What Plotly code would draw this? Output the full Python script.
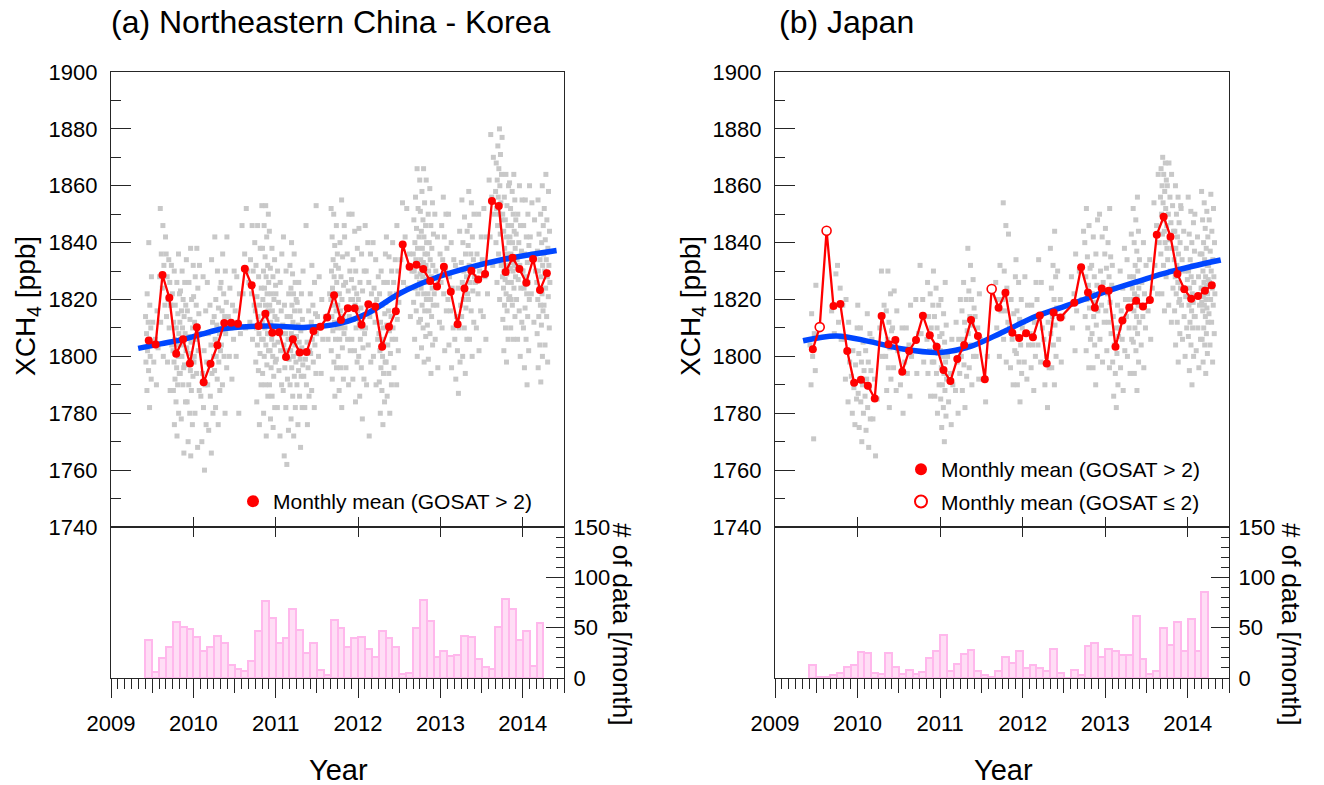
import plotly.graph_objects as go

# ---------------------------------------------------------------- data
MONTHS = [
    "2009-06", "2009-07", "2009-08", "2009-09", "2009-10", "2009-11", "2009-12",
    "2010-01", "2010-02", "2010-03", "2010-04", "2010-05", "2010-06", "2010-07",
    "2010-08", "2010-09", "2010-10", "2010-11", "2010-12",
    "2011-01", "2011-02", "2011-03", "2011-04", "2011-05", "2011-06", "2011-07",
    "2011-08", "2011-09", "2011-10", "2011-11", "2011-12",
    "2012-01", "2012-02", "2012-03", "2012-04", "2012-05", "2012-06", "2012-07",
    "2012-08", "2012-09", "2012-10", "2012-11", "2012-12",
    "2013-01", "2013-02", "2013-03", "2013-04", "2013-05", "2013-06", "2013-07",
    "2013-08", "2013-09", "2013-10", "2013-11", "2013-12",
    "2014-01", "2014-02", "2014-03", "2014-04",
]

# monthly mean XCH4 [ppb]
XCH4_A = [
    1805.6, 1804.2, 1828.6, 1820.6, 1800.9, 1806.0, 1797.5, 1810.2, 1790.9, 1797.4,
    1803.9, 1811.7, 1811.8, 1811.5, 1830.8, 1825.0, 1810.7, 1815.0, 1808.3, 1808.5,
    1799.8, 1806.0, 1801.4, 1801.5, 1808.9, 1810.4, 1813.7, 1821.5, 1812.8, 1816.9,
    1816.9, 1811.1, 1818.3, 1817.5, 1803.4, 1810.4, 1815.9, 1839.3, 1831.5, 1832.2,
    1830.7, 1826.5, 1824.6, 1831.5, 1822.7, 1811.3, 1823.9, 1830.1, 1827.0, 1829.0,
    1854.6, 1852.9, 1829.7, 1834.7, 1830.7, 1825.9, 1834.2, 1823.3, 1829.2,
]
XCH4_B = [
    1802.5, 1810.3, 1844.2, 1817.7, 1818.4, 1801.9, 1790.7, 1791.8, 1789.7, 1785.2,
    1814.2, 1804.3, 1805.8, 1794.6, 1801.9, 1805.8, 1814.3, 1807.4, 1803.4, 1795.2,
    1791.3, 1799.1, 1804.0, 1812.8, 1807.2, 1792.0, 1823.7, 1817.1, 1822.4, 1808.3,
    1806.5, 1808.1, 1806.7, 1814.4, 1797.5, 1815.4, 1813.7, None, 1818.9, 1831.3,
    1822.5, 1817.1, 1823.9, 1823.1, 1803.4, 1812.6, 1817.2, 1819.6, 1817.5, 1819.8,
    1842.8, 1849.1, 1842.1, 1829.0, 1823.6, 1820.3, 1821.2, 1823.1, 1825.0,
]

# number of GOSAT data per month (2009-06 .. 2014-03)
COUNT_A = [
    38, 6, 20, 31, 56, 51, 49, 41, 27, 31, 42, 35, 13, 9, 7, 17, 47, 76, 60, 35,
    40, 69, 48, 25, 35, 8, 3, 58, 50, 31, 40, 41, 29, 21, 47, 40, 31, 4, 5, 50,
    77, 57, 21, 27, 22, 23, 42, 41, 19, 11, 9, 51, 78, 69, 38, 47, 12, 55,
]
COUNT_B = [
    13, 1, 1, 3, 5, 11, 13, 26, 25, 5, 4, 25, 11, 4, 8, 4, 6, 20, 27, 43,
    7, 14, 24, 28, 7, 3, 1, 7, 21, 15, 27, 10, 13, 10, 7, 29, 5, 0, 8, 3,
    32, 35, 21, 29, 27, 23, 23, 62, 19, 4, 7, 50, 33, 56, 27, 59, 27, 85,
]

# smooth trend curves (decimal year, ppb)
TREND_A_T = [2009.33, 2009.60, 2009.88, 2010.10, 2010.36, 2010.89, 2011.38, 2011.78,
             2012.11, 2012.51, 2012.92, 2013.32, 2013.73, 2014.41]
TREND_A_V = [1802.8, 1804.4, 1806.0, 1807.8, 1809.7, 1810.7, 1810.2, 1811.6,
             1815.1, 1822.2, 1827.4, 1831.0, 1833.9, 1837.2]
TREND_B_T = [2009.34, 2009.745, 2010.15, 2010.55, 2011.00, 2011.36, 2011.77, 2012.17,
             2012.58, 2012.98, 2013.39, 2013.79, 2014.40]
TREND_B_V = [1805.5, 1807.2, 1805.2, 1802.6, 1801.4, 1803.4, 1808.7, 1814.2,
             1818.3, 1822.5, 1826.3, 1829.8, 1833.9]

# individual GOSAT retrievals per month (ppb, estimated from the figure)
GRAY_A = [
    [1782, 1788, 1792, 1795, 1798, 1800, 1802, 1804, 1806, 1808, 1810, 1812, 1814, 1818, 1822, 1828, 1840],
    [1790, 1798, 1803, 1806, 1812, 1816],
    [1800, 1812, 1818, 1824, 1828, 1832, 1836, 1842, 1846, 1852],
    [1788, 1798, 1804, 1810, 1814, 1818, 1820, 1822, 1826, 1828, 1832, 1834, 1836, 1818],
    [1772, 1776, 1780, 1784, 1788, 1790, 1792, 1794, 1796, 1798, 1800, 1801, 1802, 1804, 1806, 1808, 1810, 1812, 1815, 1818, 1822, 1826, 1830, 1836],
    [1766, 1778, 1784, 1790, 1794, 1797, 1800, 1802, 1804, 1806, 1808, 1810, 1812, 1814, 1816, 1818, 1820, 1823, 1826, 1830, 1834, 1796],
    [1765, 1770, 1776, 1780, 1784, 1788, 1790, 1793, 1795, 1797, 1799, 1801, 1803, 1805, 1807, 1810, 1813, 1816, 1820, 1826, 1832, 1838],
    [1768, 1780, 1788, 1794, 1798, 1802, 1806, 1808, 1810, 1812, 1815, 1818, 1821, 1824, 1828, 1832, 1838, 1800],
    [1760, 1770, 1776, 1782, 1786, 1790, 1794, 1798, 1802, 1808, 1816, 1828],
    [1766, 1774, 1780, 1786, 1790, 1794, 1797, 1800, 1804, 1808, 1812, 1818, 1826, 1834],
    [1776, 1782, 1788, 1792, 1795, 1798, 1800, 1802, 1804, 1806, 1808, 1811, 1814, 1817, 1820, 1824, 1830, 1842],
    [1780, 1790, 1796, 1800, 1804, 1808, 1810, 1812, 1814, 1816, 1819, 1822, 1826, 1830, 1836, 1842],
    [1792, 1800, 1806, 1810, 1814, 1818, 1824, 1830],
    [1780, 1800, 1808, 1812, 1816, 1822, 1828],
    [1810, 1822, 1830, 1836, 1846, 1852],
    [1806, 1812, 1818, 1822, 1826, 1830, 1834, 1840, 1846],
    [1776, 1784, 1790, 1795, 1798, 1801, 1804, 1806, 1808, 1810, 1812, 1814, 1816, 1818, 1821, 1824, 1828, 1832, 1838, 1846, 1853],
    [1772, 1780, 1786, 1790, 1794, 1797, 1800, 1802, 1804, 1806, 1808, 1810, 1812, 1814, 1815, 1816, 1818, 1820, 1822, 1824, 1826, 1828, 1830, 1832, 1835, 1838, 1842, 1846, 1850, 1853],
    [1775, 1778, 1782, 1786, 1790, 1793, 1796, 1798, 1800, 1802, 1804, 1806, 1808, 1810, 1812, 1814, 1816, 1818, 1820, 1822, 1825, 1828, 1831, 1834, 1838, 1844],
    [1772, 1782, 1790, 1795, 1799, 1802, 1805, 1808, 1810, 1813, 1816, 1819, 1822, 1826, 1830, 1836],
    [1762, 1765, 1774, 1782, 1788, 1792, 1796, 1799, 1802, 1804, 1806, 1808, 1811, 1814, 1818, 1822, 1830, 1842],
    [1772, 1778, 1782, 1786, 1790, 1793, 1796, 1798, 1800, 1802, 1804, 1805, 1806, 1807, 1808, 1810, 1812, 1814, 1816, 1818, 1820, 1822, 1824, 1826, 1829, 1832, 1836, 1840],
    [1768, 1776, 1782, 1786, 1790, 1793, 1795, 1797, 1799, 1801, 1803, 1805, 1807, 1809, 1811, 1813, 1816, 1819, 1822, 1826, 1830],
    [1776, 1782, 1786, 1790, 1793, 1796, 1799, 1802, 1805, 1810, 1816, 1846],
    [1782, 1788, 1794, 1798, 1801, 1804, 1806, 1808, 1810, 1812, 1815, 1818, 1822, 1826, 1832, 1853],
    [1794, 1800, 1806, 1810, 1814, 1820, 1828],
    [1806, 1814, 1822],
    [1786, 1792, 1796, 1798, 1802, 1806, 1809, 1810, 1812, 1814, 1816, 1818, 1820, 1822, 1824, 1826, 1828, 1830, 1832, 1834, 1836, 1839, 1842, 1846, 1850, 1852],
    [1782, 1788, 1792, 1796, 1800, 1803, 1806, 1808, 1810, 1812, 1814, 1816, 1818, 1820, 1822, 1825, 1828, 1831, 1835, 1840, 1846, 1855],
    [1790, 1796, 1802, 1806, 1810, 1814, 1817, 1820, 1823, 1826, 1830, 1836, 1842, 1850],
    [1784, 1792, 1798, 1802, 1806, 1810, 1813, 1816, 1818, 1820, 1822, 1824, 1827, 1830, 1834, 1838, 1844, 1850],
    [1778, 1786, 1792, 1796, 1800, 1803, 1806, 1808, 1810, 1812, 1814, 1817, 1820, 1823, 1826, 1830, 1836, 1845],
    [1772, 1790, 1798, 1804, 1810, 1814, 1818, 1822, 1826, 1830, 1836, 1840, 1846],
    [1790, 1800, 1806, 1812, 1816, 1820, 1824, 1828, 1834, 1840],
    [1776, 1780, 1784, 1788, 1791, 1794, 1796, 1798, 1800, 1802, 1804, 1806, 1808, 1810, 1812, 1815, 1818, 1822, 1826, 1830, 1836],
    [1780, 1786, 1790, 1794, 1798, 1801, 1804, 1806, 1809, 1811, 1814, 1816, 1819, 1822, 1826, 1830, 1835, 1842],
    [1790, 1796, 1802, 1806, 1810, 1813, 1816, 1819, 1822, 1826, 1830, 1834, 1840, 1846],
    [1826, 1834, 1842, 1854],
    [1814, 1824, 1830, 1836, 1852],
    [1800, 1806, 1812, 1816, 1819, 1822, 1824, 1826, 1828, 1830, 1832, 1834, 1836, 1838, 1840, 1842, 1845, 1848, 1852, 1856, 1862, 1866],
    [1798, 1803, 1807, 1810, 1813, 1816, 1818, 1820, 1822, 1824, 1826, 1828, 1829, 1830, 1831, 1832, 1833, 1834, 1836, 1838, 1840, 1842, 1844, 1846, 1848, 1851, 1854, 1858, 1862, 1866],
    [1794, 1799, 1804, 1808, 1811, 1814, 1816, 1818, 1820, 1822, 1824, 1826, 1827, 1828, 1830, 1832, 1834, 1836, 1838, 1840, 1843, 1846, 1850, 1854, 1859],
    [1796, 1806, 1812, 1818, 1822, 1826, 1830, 1836, 1842, 1850],
    [1802, 1810, 1816, 1822, 1826, 1830, 1834, 1838, 1842, 1846, 1850, 1856],
    [1796, 1804, 1810, 1816, 1820, 1824, 1828, 1834, 1840, 1850],
    [1787, 1792, 1798, 1802, 1806, 1810, 1814, 1818, 1824, 1832, 1844],
    [1794, 1800, 1806, 1810, 1814, 1817, 1820, 1822, 1824, 1826, 1828, 1830, 1833, 1836, 1840, 1844, 1849, 1855],
    [1800, 1806, 1812, 1816, 1820, 1823, 1826, 1828, 1830, 1832, 1834, 1836, 1839, 1842, 1846, 1850, 1854, 1858],
    [1802, 1810, 1816, 1822, 1826, 1830, 1836, 1842, 1850],
    [1806, 1814, 1822, 1828, 1834, 1842, 1852],
    [1832, 1842, 1850, 1856, 1862, 1870, 1878],
    [1820, 1826, 1832, 1836, 1840, 1843, 1846, 1848, 1850, 1852, 1854, 1856, 1858, 1860, 1862, 1864, 1866, 1868, 1871, 1874, 1877, 1880],
    [1798, 1802, 1806, 1810, 1813, 1816, 1818, 1820, 1822, 1824, 1826, 1827, 1828, 1829, 1830, 1831, 1832, 1834, 1836, 1838, 1840, 1842, 1844, 1846, 1848, 1850, 1853, 1856, 1860, 1864],
    [1806, 1810, 1814, 1818, 1821, 1824, 1826, 1828, 1830, 1831, 1832, 1833, 1834, 1835, 1836, 1838, 1840, 1842, 1844, 1846, 1848, 1850, 1852, 1855, 1858, 1861, 1864, 1820],
    [1800, 1806, 1812, 1816, 1820, 1824, 1827, 1830, 1832, 1834, 1837, 1840, 1843, 1846, 1850, 1855, 1860],
    [1790, 1796, 1802, 1806, 1810, 1814, 1817, 1820, 1822, 1824, 1826, 1828, 1830, 1833, 1836, 1839, 1842, 1846, 1850, 1855, 1860],
    [1812, 1822, 1830, 1836, 1842, 1848, 1854],
    [1791, 1796, 1800, 1804, 1808, 1811, 1814, 1816, 1818, 1820, 1822, 1824, 1826, 1828, 1830, 1832, 1834, 1837, 1840, 1843, 1846, 1850, 1855, 1860],
    [1798, 1804, 1810, 1814, 1818, 1821, 1824, 1826, 1828, 1830, 1832, 1834, 1836, 1838, 1841, 1844, 1848, 1852, 1858, 1864],
]
GRAY_B = [
    [1771, 1790, 1795, 1800, 1804, 1808, 1815, 1825],
    [1810],
    [1844],
    [1808, 1816, 1829],
    [1806, 1812, 1818, 1824, 1832],
    [1784, 1792, 1798, 1802, 1806, 1812, 1820],
    [1776, 1780, 1785, 1789, 1793, 1797, 1802, 1810],
    [1770, 1775, 1780, 1784, 1787, 1790, 1792, 1795, 1798, 1801, 1805, 1810, 1818],
    [1768, 1774, 1778, 1782, 1786, 1789, 1792, 1795, 1798, 1802, 1808, 1815],
    [1765, 1778, 1785, 1792, 1806],
    [1800, 1810, 1818, 1830],
    [1782, 1788, 1792, 1796, 1800, 1803, 1806, 1809, 1812, 1816, 1822, 1830],
    [1788, 1796, 1802, 1806, 1810, 1816, 1823],
    [1780, 1790, 1798, 1810],
    [1786, 1794, 1800, 1804, 1810, 1818],
    [1794, 1802, 1808, 1820],
    [1798, 1808, 1814, 1820, 1832],
    [1786, 1794, 1798, 1802, 1806, 1810, 1814, 1818, 1822, 1826],
    [1780, 1786, 1790, 1794, 1798, 1801, 1804, 1807, 1810, 1814, 1818, 1824, 1830],
    [1770, 1775, 1779, 1782, 1785, 1788, 1790, 1792, 1794, 1796, 1798, 1800, 1802, 1805, 1808, 1811, 1815, 1820, 1826],
    [1776, 1784, 1790, 1794, 1800, 1806],
    [1780, 1788, 1794, 1798, 1802, 1806, 1812, 1820],
    [1782, 1788, 1793, 1797, 1800, 1803, 1806, 1809, 1812, 1816, 1820, 1826],
    [1790, 1796, 1800, 1804, 1808, 1811, 1814, 1817, 1820, 1823, 1827, 1832, 1838],
    [1792, 1800, 1806, 1810, 1814, 1822],
    [1784, 1792, 1800],
    [1824],
    [1800, 1810, 1816, 1820, 1826, 1832],
    [1798, 1806, 1812, 1816, 1820, 1824, 1830, 1843, 1846, 1854],
    [1790, 1796, 1802, 1806, 1810, 1815, 1820, 1828],
    [1784, 1790, 1794, 1798, 1801, 1804, 1807, 1810, 1813, 1816, 1820, 1826, 1834],
    [1792, 1798, 1804, 1808, 1812, 1818, 1828],
    [1788, 1796, 1800, 1804, 1808, 1812, 1818, 1826],
    [1798, 1804, 1810, 1814, 1820, 1826, 1834],
    [1782, 1790, 1796, 1800, 1806, 1812],
    [1790, 1796, 1800, 1804, 1808, 1811, 1814, 1817, 1820, 1824, 1828, 1832, 1838, 1844],
    [1798, 1806, 1814, 1820, 1830],
    [],
    [1802, 1810, 1816, 1822, 1828, 1836],
    [1820, 1830, 1844],
    [1796, 1802, 1806, 1810, 1814, 1817, 1820, 1822, 1825, 1828, 1831, 1835, 1840, 1846, 1852],
    [1790, 1796, 1800, 1804, 1808, 1811, 1814, 1816, 1819, 1822, 1825, 1828, 1832, 1836, 1842, 1848],
    [1798, 1806, 1812, 1818, 1822, 1826, 1830, 1836, 1842, 1850],
    [1796, 1802, 1808, 1812, 1816, 1819, 1822, 1825, 1828, 1831, 1835, 1840, 1845, 1852],
    [1782, 1786, 1790, 1794, 1798, 1801, 1804, 1807, 1810, 1814, 1818, 1824, 1832],
    [1788, 1796, 1802, 1806, 1810, 1813, 1816, 1820, 1824, 1830, 1838],
    [1794, 1800, 1806, 1810, 1814, 1817, 1820, 1824, 1828, 1834, 1843],
    [1788, 1794, 1798, 1802, 1805, 1808, 1810, 1812, 1814, 1816, 1818, 1819, 1820, 1821, 1822, 1824, 1826, 1828, 1830, 1832, 1834, 1837, 1840, 1844, 1848, 1852, 1856],
    [1796, 1804, 1810, 1814, 1818, 1822, 1826, 1832, 1840],
    [1806, 1816, 1824, 1834],
    [1822, 1832, 1840, 1846, 1854, 1864],
    [1816, 1822, 1828, 1832, 1836, 1840, 1843, 1846, 1848, 1850, 1852, 1854, 1856, 1858, 1860, 1862, 1864, 1866, 1868, 1870, 1838, 1844],
    [1812, 1818, 1824, 1830, 1834, 1838, 1841, 1844, 1847, 1850, 1853, 1856, 1860, 1864, 1868],
    [1798, 1804, 1808, 1812, 1816, 1819, 1822, 1824, 1826, 1828, 1830, 1832, 1834, 1836, 1838, 1840, 1842, 1844, 1847, 1850, 1853, 1856, 1860, 1820],
    [1800, 1806, 1810, 1814, 1818, 1821, 1824, 1827, 1830, 1834, 1838, 1844, 1852],
    [1790, 1795, 1800, 1804, 1807, 1810, 1812, 1814, 1816, 1818, 1819, 1820, 1821, 1822, 1824, 1826, 1828, 1830, 1832, 1834, 1837, 1840, 1843, 1847, 1851, 1856],
    [1796, 1802, 1806, 1810, 1814, 1818, 1821, 1824, 1828, 1832, 1836, 1842, 1850],
    [1794, 1798, 1801, 1804, 1806, 1808, 1810, 1812, 1814, 1816, 1817, 1818, 1819, 1820, 1821, 1822, 1823, 1824, 1825, 1826, 1827, 1828, 1830, 1832, 1834, 1836, 1838, 1840, 1842, 1845, 1848, 1851, 1854, 1858],
    [1798, 1804, 1808, 1812, 1815, 1818, 1820, 1822, 1824, 1826, 1828, 1830, 1832, 1834, 1837, 1840, 1844, 1848, 1852, 1857],
]

YEAR_TICKS = [2009, 2010, 2011, 2012, 2013, 2014]
X_RANGE = [2009.0, 2014.5]
Y_RANGE_TOP = [1740, 1900]
Y_RANGE_BOTTOM = [0, 150]
TITLES = ["(a) Northeastern China - Korea", "(b) Japan"]

# ---------------------------------------------------------------- helpers
W, H = 1324, 785
FONT = "Liberation Sans, Arial, sans-serif"
RED = "#FF0000"
BLUE = "#0046FF"
GRAY = "#C8C8C8"
AXC = "#262626"
GOLD = 0.6180339887


def month_start(s):
    y, m = s.split("-")
    return int(y) + (int(m) - 1) / 12.0


def month_mid(s):
    return month_start(s) + 0.5 / 12.0


def px_x(p):
    return p / W


def px_y(p):
    return 1 - p / H


fig = go.Figure()

panels = [
    dict(x="x", y="y", xb="x3", yb="y3", mean=XCH4_A, cnt=COUNT_A, gray=GRAY_A,
         tt=TREND_A_T, tv=TREND_A_V, legend="legend"),
    dict(x="x2", y="y2", xb="x4", yb="y4", mean=XCH4_B, cnt=COUNT_B, gray=GRAY_B,
         tt=TREND_B_T, tv=TREND_B_V, legend="legend2"),
]

for k, p in enumerate(panels):
    # gray individual retrievals
    gx, gy = [], []
    for mon, vals in zip(MONTHS, p["gray"]):
        for i, v in enumerate(vals):
            frac = ((i + 1) * GOLD) % 1.0
            gx.append(month_start(mon) + frac / 12.0)
            gy.append(v)
    fig.add_trace(go.Scatter(x=gx, y=gy, mode="markers", xaxis=p["x"], yaxis=p["y"],
                             marker=dict(symbol="square", size=5, color=GRAY, line=dict(width=0)),
                             showlegend=False, hoverinfo="skip"))
    # trend
    fig.add_trace(go.Scatter(x=p["tt"], y=p["tv"], mode="lines", xaxis=p["x"], yaxis=p["y"],
                             line=dict(color=BLUE, width=5.5, shape="spline", smoothing=1.0),
                             showlegend=False, hoverinfo="skip"))
    # monthly mean line
    xm = [month_mid(m) for m in MONTHS]
    fig.add_trace(go.Scatter(x=xm, y=p["mean"], mode="lines", xaxis=p["x"], yaxis=p["y"],
                             line=dict(color=RED, width=2.3), connectgaps=True,
                             showlegend=False, hoverinfo="skip"))
    # markers: filled (count > 2) and open (count <= 2)
    fx, fy, ox, oy = [], [], [], []
    for i, (m, v) in enumerate(zip(MONTHS, p["mean"])):
        if v is None:
            continue
        c = p["cnt"][i] if i < len(p["cnt"]) else 99
        if c <= 2:
            ox.append(month_mid(m)); oy.append(v)
        else:
            fx.append(month_mid(m)); fy.append(v)
    fig.add_trace(go.Scatter(x=fx, y=fy, mode="markers", xaxis=p["x"], yaxis=p["y"],
                             marker=dict(color=RED, size=8, line=dict(width=0)),
                             showlegend=False, hoverinfo="skip"))
    if ox:
        fig.add_trace(go.Scatter(x=ox, y=oy, mode="markers", xaxis=p["x"], yaxis=p["y"],
                                 marker=dict(color="white", size=9, line=dict(color=RED, width=1.6)),
                                 showlegend=False, hoverinfo="skip"))
    # legend entries
    fig.add_trace(go.Scatter(x=[None], y=[None], mode="markers", xaxis=p["x"], yaxis=p["y"],
                             marker=dict(color=RED, size=12, line=dict(width=0)),
                             name="Monthly mean (GOSAT > 2)", legend=p["legend"],
                             legendgroup="f%d" % k, showlegend=True))
    if ox:
        fig.add_trace(go.Scatter(x=[None], y=[None], mode="markers", xaxis=p["x"], yaxis=p["y"],
                                 marker=dict(color="white", size=12, line=dict(color=RED, width=2)),
                                 name="Monthly mean (GOSAT \u2264 2)", legend=p["legend"],
                                 legendgroup="o%d" % k, showlegend=True))
    # count histogram
    bx = [month_mid(m) for m in MONTHS[:len(p["cnt"])]]
    fig.add_trace(go.Bar(x=bx, y=p["cnt"], width=1 / 12.0, xaxis=p["xb"], yaxis=p["yb"],
                         marker=dict(color="#FFDDF5", line=dict(color="#FFB8EC", width=2)),
                         showlegend=False, hoverinfo="skip"))

# dummy traces for the extra tick axes
for xa, ya in [("x5", "y3"), ("x6", "y4"), ("x7", "y3"), ("x8", "y4")]:
    fig.add_trace(go.Scatter(x=[None], y=[None], xaxis=xa, yaxis=ya, showlegend=False,
                             hoverinfo="skip", mode="markers"))

XDOM = [[px_x(111), px_x(564)], [px_x(775), px_x(1229)]]
YDOM_T = [px_y(527), px_y(72)]
YDOM_B = [px_y(678), px_y(527)]
TICKFONT = dict(family=FONT, size=22, color="black")

common_line = dict(showline=True, linecolor=AXC, linewidth=1.3, mirror=True,
                   showgrid=False, zeroline=False, tickcolor=AXC, tickwidth=1.3,
                   automargin=False)

layout = dict(
    template="none",
    width=W, height=H, margin=dict(l=0, r=0, t=0, b=0, pad=0, autoexpand=False),
    paper_bgcolor="white", plot_bgcolor="white",
    font=dict(family=FONT, color="black"),
    bargap=0,
)

for k in range(2):
    xi = "" if k == 0 else "2"
    layout["xaxis" + xi] = dict(domain=XDOM[k], range=X_RANGE, anchor="y" + xi,
                                tickmode="array", tickvals=YEAR_TICKS, ticks="inside",
                                ticklen=10, showticklabels=False, **common_line)
    layout["yaxis" + xi] = dict(domain=YDOM_T, range=Y_RANGE_TOP, anchor="x" + xi,
                                dtick=20, tick0=1740, ticks="inside", ticklen=20,
                                tickfont=TICKFONT, ticklabelstandoff=8,
                                minor=dict(dtick=10, ticks="inside", ticklen=10,
                                           tickcolor=AXC, tickwidth=1.3),
                                **common_line)
    bxn = str(3 + k)
    layout["xaxis" + bxn] = dict(domain=XDOM[k], range=X_RANGE, anchor="y" + bxn,
                                 tickmode="array", tickvals=YEAR_TICKS, ticks="outside",
                                 ticklen=19, tickfont=TICKFONT, tickformat="d",
                                 ticklabelstandoff=6,
                                 minor=dict(dtick=1 / 12.0, tick0=2009, ticks="outside", ticklen=10,
                                            tickcolor=AXC, tickwidth=1.3),
                                 **common_line)
    layout["yaxis" + bxn] = dict(domain=YDOM_B, range=Y_RANGE_BOTTOM, anchor="x" + bxn,
                                 side="right", tickvals=[0, 50, 100, 150], ticks="inside",
                                 ticklen=18, tickfont=TICKFONT, ticklabelstandoff=4,
                                 minor=dict(dtick=10, ticks="inside", ticklen=8,
                                            tickcolor=AXC, tickwidth=1.3),
                                 **common_line)
    layout["xaxis" + str(5 + k)] = dict(overlaying="x" + bxn, anchor="y" + bxn, range=X_RANGE,
                                        tickmode="array",
                                        tickvals=[y + 0.5 for y in YEAR_TICKS],
                                        ticks="outside", ticklen=14, showticklabels=False,
                                        showline=False, showgrid=False, zeroline=False,
                                        tickcolor=AXC, tickwidth=1.3, automargin=False)
    layout["xaxis" + str(7 + k)] = dict(overlaying="x" + bxn, anchor="y" + bxn, side="top",
                                        range=X_RANGE, tickmode="array", tickvals=YEAR_TICKS,
                                        ticks="inside", ticklen=10, showticklabels=False,
                                        showline=False, showgrid=False, zeroline=False,
                                        tickcolor=AXC, tickwidth=1.3, automargin=False)

layout["legend"] = dict(x=px_x(233), y=px_y(481), xanchor="left", yanchor="top",
                        bgcolor="rgba(0,0,0,0)", font=dict(family=FONT, size=21),
                        tracegroupgap=2, itemwidth=30)
layout["legend2"] = dict(x=px_x(901), y=px_y(449), xanchor="left", yanchor="top",
                         bgcolor="rgba(0,0,0,0)", font=dict(family=FONT, size=21),
                         tracegroupgap=2, itemwidth=30)

ann = []
for k, t in enumerate(TITLES):
    ann.append(dict(text=t, x=px_x([109, 777][k]), y=px_y(22), xref="paper", yref="paper",
                    xanchor="left", yanchor="middle", showarrow=False,
                    font=dict(family=FONT, size=32, color="black")))
    ann.append(dict(text="XCH<sub>4</sub> [ppb]", x=px_x([27, 692][k]), y=px_y(306),
                    xref="paper", yref="paper", xanchor="center", yanchor="middle",
                    textangle=-90, showarrow=False,
                    font=dict(family=FONT, size=28, color="black")))
    ann.append(dict(text="# of data [/month]", x=px_x([622, 1291][k]), y=px_y(624),
                    xref="paper", yref="paper", xanchor="center", yanchor="middle",
                    textangle=90, showarrow=False,
                    font=dict(family=FONT, size=26, color="black")))
    ann.append(dict(text="Year", x=px_x([338, 1003][k]), y=px_y(770),
                    xref="paper", yref="paper", xanchor="center", yanchor="middle",
                    showarrow=False, font=dict(family=FONT, size=29, color="black")))
layout["annotations"] = ann

fig.update_layout(**layout)
fig.write_html("out.html", config={"displayModeBar": False},
               post_script="document.body.style.margin='0';document.body.style.padding='0';")
